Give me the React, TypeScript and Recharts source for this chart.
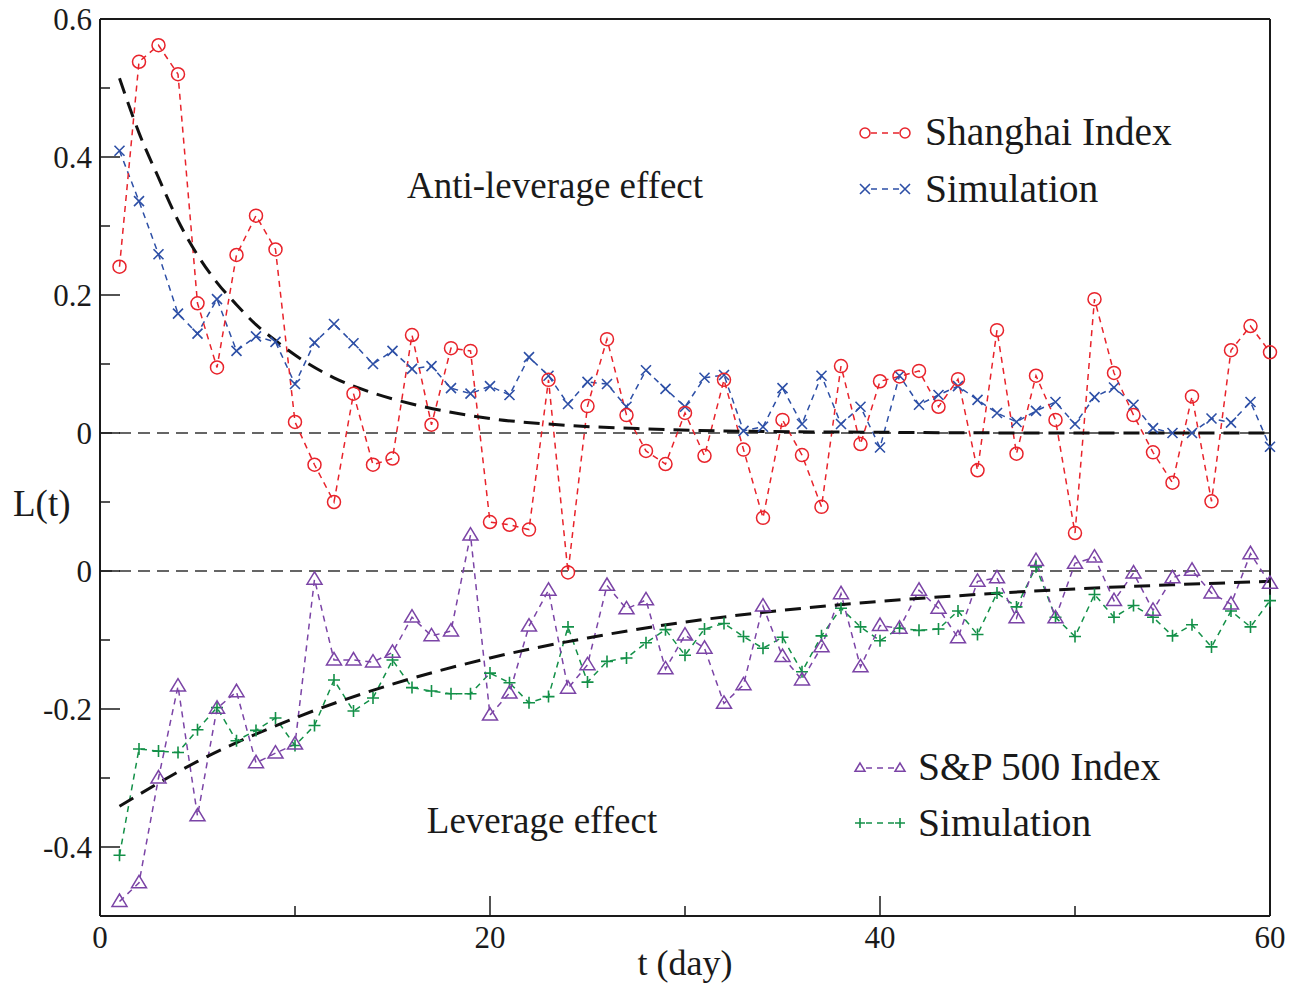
import React from 'react';
import { LineChart, Line, XAxis, YAxis, ReferenceLine } from 'recharts';

// t (day) 1..60
const days = [
  1, 2, 3, 4, 5, 6, 7, 8, 9, 10, 11, 12, 13, 14, 15, 16, 17, 18, 19, 20,
  21, 22, 23, 24, 25, 26, 27, 28, 29, 30, 31, 32, 33, 34, 35, 36, 37, 38, 39, 40,
  41, 42, 43, 44, 45, 46, 47, 48, 49, 50, 51, 52, 53, 54, 55, 56, 57, 58, 59, 60,
];

// upper panel: Shanghai index and its simulation
const shanghai = [
  0.241, 0.538, 0.562, 0.52, 0.188, 0.095, 0.258, 0.315, 0.266, 0.016,
  -0.046, -0.1, 0.057, -0.046, -0.037, 0.142, 0.012, 0.123, 0.119, -0.129,
  -0.133, -0.14, 0.077, -0.202, 0.039, 0.136, 0.026, -0.026, -0.045, 0.029,
  -0.033, 0.077, -0.024, -0.123, 0.019, -0.032, -0.107, 0.097, -0.016, 0.075,
  0.082, 0.09, 0.038, 0.078, -0.054, 0.149, -0.03, 0.083, 0.019, -0.145,
  0.194, 0.087, 0.026, -0.028, -0.072, 0.053, -0.099, 0.12, 0.155, 0.117,
];
const shanghaiSim = [
  0.409, 0.336, 0.259, 0.173, 0.144, 0.194, 0.119, 0.14, 0.132, 0.071,
  0.131, 0.158, 0.13, 0.1, 0.119, 0.093, 0.097, 0.065, 0.057, 0.068,
  0.055, 0.11, 0.083, 0.042, 0.074, 0.071, 0.038, 0.091, 0.064, 0.038,
  0.08, 0.084, 0.003, 0.009, 0.065, 0.013, 0.083, 0.013, 0.038, -0.021,
  0.083, 0.041, 0.055, 0.068, 0.048, 0.029, 0.016, 0.032, 0.045, 0.013,
  0.052, 0.066, 0.041, 0.007, 0.0, 0.0, 0.021, 0.015, 0.045, -0.02,
];

// lower panel: S&P 500 and its simulation
const sp500 = [
  -0.479, -0.452, -0.3, -0.167, -0.355, -0.199, -0.175, -0.278, -0.264, -0.251,
  -0.012, -0.129, -0.129, -0.132, -0.118, -0.067, -0.094, -0.087, 0.052, -0.209,
  -0.177, -0.08, -0.028, -0.17, -0.136, -0.021, -0.055, -0.042, -0.142, -0.093,
  -0.112, -0.192, -0.165, -0.051, -0.124, -0.158, -0.11, -0.033, -0.139, -0.079,
  -0.083, -0.028, -0.054, -0.097, -0.015, -0.01, -0.068, 0.015, -0.068, 0.011,
  0.02, -0.043, -0.003, -0.057, -0.01, 0.001, -0.032, -0.048, 0.025, -0.018,
];
const sp500Sim = [
  -0.412, -0.258, -0.261, -0.263, -0.23, -0.198, -0.246, -0.231, -0.213, -0.253,
  -0.224, -0.158, -0.203, -0.184, -0.129, -0.169, -0.174, -0.178, -0.178, -0.148,
  -0.162, -0.191, -0.182, -0.081, -0.161, -0.131, -0.126, -0.104, -0.085, -0.122,
  -0.084, -0.076, -0.095, -0.112, -0.096, -0.146, -0.094, -0.054, -0.081, -0.101,
  -0.083, -0.086, -0.084, -0.058, -0.092, -0.032, -0.052, 0.006, -0.067, -0.095,
  -0.034, -0.067, -0.05, -0.067, -0.094, -0.078, -0.11, -0.058, -0.081, -0.043,
];

// dashed fit curves
const topFitT = [1, 2, 3, 4, 5, 6, 7, 8, 9, 10, 12, 14, 16, 18, 20, 24, 28, 32, 40, 50, 60];
const topFitV = [
  0.514, 0.435, 0.37, 0.308, 0.258, 0.218, 0.186, 0.157, 0.134, 0.113,
  0.08, 0.058, 0.042, 0.03, 0.021, 0.011, 0.006, 0.003, 0.001, 0, 0,
];
const bottomFitT = [1, 5, 10, 15, 20, 25, 30, 35, 40, 45, 50, 55, 60];
const bottomFitV = [
  -0.341, -0.276, -0.213, -0.164, -0.126, -0.097, -0.074, -0.057, -0.044, -0.034, -0.026, -0.02, -0.015,
];

// the upper panel sits 0.2 above the lower one on a shared axis
const TOP_SHIFT = 0.2;

const xTicks = [0, 10, 20, 30, 40, 50, 60];
const xLabelTicks = [0, 20, 40, 60];
const yTicks = [-0.4, -0.3, -0.2, -0.1, 0, 0.1, 0.2, 0.3, 0.4, 0.5, 0.6, 0.7, 0.8];
const yMajorTicks = [-0.4, -0.2, 0, 0.2, 0.4, 0.6, 0.8];
const yTickLabels = ['-0.4', '-0.2', '0', '0', '0.2', '0.4', '0.6'];

const table = days.map((t, i) => ({
  t,
  sh: shanghai[i] + TOP_SHIFT,
  shSim: shanghaiSim[i] + TOP_SHIFT,
  sp: sp500[i],
  spSim: sp500Sim[i],
}));
const topFit = topFitT.map((t, i) => ({ t, v: topFitV[i] + TOP_SHIFT }));
const bottomFit = bottomFitT.map((t, i) => ({ t, v: bottomFitV[i] }));

const FONT = '"Liberation Serif", "Times New Roman", serif';
const INK = '#1a1a1a';
const RED = '#e8232b';
const BLUE = '#2d4fa6';
const PURPLE = '#7b44a6';
const GREEN = '#139048';

const majorIndex = (v: number) => yMajorTicks.findIndex((m) => Math.abs(m - v) < 1e-6);

const CircleMark = ({ cx, cy, r = 6.5 }: any) => (
  <circle cx={cx} cy={cy} r={r} fill="none" stroke={RED} strokeWidth={1.5} />
);
const CrossMark = ({ cx, cy, s = 5 }: any) => (
  <path d={`M${cx - s},${cy - s}L${cx + s},${cy + s}M${cx - s},${cy + s}L${cx + s},${cy - s}`} stroke={BLUE} strokeWidth={1.6} />
);
const TriMark = ({ cx, cy, s = 7.5 }: any) => (
  <path d={`M${cx},${cy - s}L${cx - s},${cy + s * 0.65}L${cx + s},${cy + s * 0.65}Z`} fill="none" stroke={PURPLE} strokeWidth={1.5} />
);
const PlusMark = ({ cx, cy, s = 6 }: any) => (
  <path d={`M${cx - s},${cy}L${cx + s},${cy}M${cx},${cy - s}L${cx},${cy + s}`} stroke={GREEN} strokeWidth={1.6} />
);

const dotOf = (Mark: any) => (p: any) =>
  p.cx == null || p.cy == null ? <g key={p.index} /> : <Mark key={p.index} cx={p.cx} cy={p.cy} />;

const BottomTick = ({ x, y, payload }: any) => {
  const v = payload.value;
  const major = xLabelTicks.includes(v);
  return (
    <g>
      <line x1={x} y1={y} x2={x} y2={y - (major ? 20 : 10)} stroke={INK} strokeWidth={1.5} />
      {major && (
        <text x={x} y={y + 32} textAnchor="middle" fontSize={31} fontFamily={FONT} fill={INK}>
          {v}
        </text>
      )}
    </g>
  );
};
const TopTick = ({ x, y, payload }: any) => {
  const major = xLabelTicks.includes(payload.value);
  return <line x1={x} y1={y} x2={x} y2={y + (major ? 20 : 10)} stroke={INK} strokeWidth={1.5} />;
};
const LeftTick = ({ x, y, payload }: any) => {
  const k = majorIndex(payload.value);
  return (
    <g>
      <line x1={x} y1={y} x2={x + (k >= 0 ? 20 : 10)} y2={y} stroke={INK} strokeWidth={1.5} />
      {k >= 0 && (
        <text x={x - 8} y={y + 10.5} textAnchor="end" fontSize={31} fontFamily={FONT} fill={INK}>
          {yTickLabels[k]}
        </text>
      )}
    </g>
  );
};
const RightTick = ({ x, y, payload }: any) => {
  const k = majorIndex(payload.value);
  return <line x1={x} y1={y} x2={x - (k >= 0 ? 20 : 10)} y2={y} stroke={INK} strokeWidth={1.5} />;
};

const textStyle = (left: number, top: number, size: number, center = false): React.CSSProperties => ({
  position: 'absolute',
  left,
  top,
  fontFamily: FONT,
  fontSize: size,
  lineHeight: 1,
  color: INK,
  whiteSpace: 'nowrap',
  transform: center ? 'translate(-50%, -50%)' : 'translateY(-50%)',
});

const LegendIcon = ({ left, top, color, Mark }: any) => (
  <svg style={{ position: 'absolute', left, top: top - 10 }} width={70} height={20}>
    <line x1={18} y1={10} x2={46} y2={10} stroke={color} strokeWidth={1.5} strokeDasharray="6 5" />
    <Mark cx={12} cy={10} r={5} s={5} />
    <Mark cx={52} cy={10} r={5} s={5} />
  </svg>
);

export default function App() {
  const axisLine = { stroke: INK, strokeWidth: 2 };
  return (
    <div style={{ position: 'relative', width: 1280, height: 976 }}>
      <style>{'.recharts-surface { overflow: visible; }'}</style>
      <LineChart width={1280} height={970} data={table} margin={{ top: 11, right: 0, left: 0, bottom: 0 }}>
        <XAxis xAxisId="b" dataKey="t" type="number" domain={[0, 60]} ticks={xTicks} interval={0}
          height={62} tickSize={0} tickMargin={0} tick={<BottomTick />} axisLine={axisLine} />
        <XAxis xAxisId="t" orientation="top" dataKey="t" type="number" domain={[0, 60]} ticks={xTicks}
          interval={0} height={0} tickSize={0} tickMargin={0} tick={<TopTick />} axisLine={axisLine} />
        <YAxis yAxisId="l" type="number" domain={[-0.5, 0.8]} ticks={yTicks} interval={0} width={92}
          tickSize={0} tickMargin={0} tick={<LeftTick />} axisLine={axisLine} />
        <YAxis yAxisId="r" orientation="right" type="number" domain={[-0.5, 0.8]} ticks={yTicks} interval={0}
          width={18} tickSize={0} tickMargin={0} tick={<RightTick />} axisLine={axisLine} />

        <ReferenceLine xAxisId="b" yAxisId="l" y={0.8} stroke={INK} strokeWidth={2} />
        <ReferenceLine xAxisId="b" yAxisId="l" y={TOP_SHIFT} stroke="#333" strokeWidth={1.5} strokeDasharray="12 7" />
        <ReferenceLine xAxisId="b" yAxisId="l" y={0} stroke="#333" strokeWidth={1.5} strokeDasharray="12 7" />

        <Line xAxisId="b" yAxisId="l" dataKey="shSim" stroke={BLUE} strokeWidth={1.5} strokeDasharray="6 5"
          dot={dotOf(CrossMark)} activeDot={false} isAnimationActive={false} />
        <Line xAxisId="b" yAxisId="l" dataKey="sh" stroke={RED} strokeWidth={1.5} strokeDasharray="6 5"
          dot={dotOf(CircleMark)} activeDot={false} isAnimationActive={false} />
        <Line xAxisId="b" yAxisId="l" dataKey="spSim" stroke={GREEN} strokeWidth={1.5} strokeDasharray="6 5"
          dot={dotOf(PlusMark)} activeDot={false} isAnimationActive={false} />
        <Line xAxisId="b" yAxisId="l" dataKey="sp" stroke={PURPLE} strokeWidth={1.5} strokeDasharray="6 5"
          dot={dotOf(TriMark)} activeDot={false} isAnimationActive={false} />

        <Line xAxisId="b" yAxisId="l" data={topFit} dataKey="v" type="monotone" stroke="#111" strokeWidth={3}
          strokeDasharray="16 9" dot={false} activeDot={false} isAnimationActive={false} />
        <Line xAxisId="b" yAxisId="l" data={bottomFit} dataKey="v" type="monotone" stroke="#111" strokeWidth={3}
          strokeDasharray="16 9" dot={false} activeDot={false} isAnimationActive={false} />
      </LineChart>

      <div style={textStyle(5, 495, 37)}>L(t)</div>
      <div style={textStyle(677, 955, 36, true)}>t (day)</div>
      <div style={textStyle(547, 177, 37, true)}>Anti-leverage effect</div>
      <div style={textStyle(534, 812, 37, true)}>Leverage effect</div>

      <LegendIcon left={845} top={125} color={RED} Mark={CircleMark} />
      <div style={textStyle(917, 125, 39.5)}>Shanghai Index</div>
      <LegendIcon left={845} top={181} color={BLUE} Mark={CrossMark} />
      <div style={textStyle(917, 182, 39.5)}>Simulation</div>

      <LegendIcon left={840} top={760} color={PURPLE} Mark={TriMark} />
      <div style={textStyle(910, 760, 39.5)}>S&amp;P 500 Index</div>
      <LegendIcon left={840} top={815} color={GREEN} Mark={PlusMark} />
      <div style={textStyle(910, 816, 39.5)}>Simulation</div>
    </div>
  );
}
